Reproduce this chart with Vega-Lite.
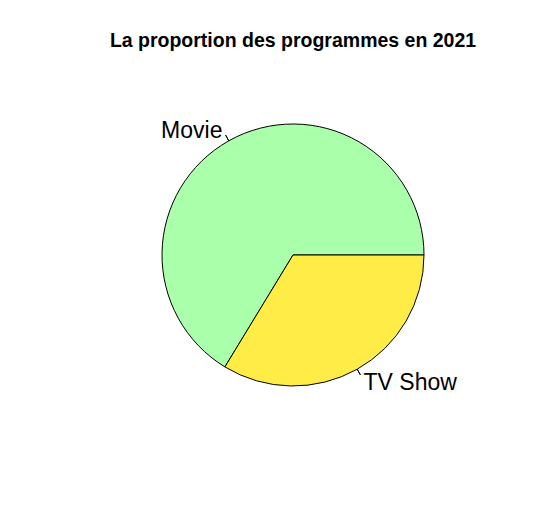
{
  "$schema": "https://vega.github.io/schema/vega-lite/v6.json",
  "autosize": {"type": "none"},
  "padding": {"left": 38, "top": 60, "right": 0, "bottom": 0},
  "width": 510,
  "height": 390,
  "background": "white",
  "config": {"view": {"stroke": null}, "font": "Liberation Sans"},
  "title": {"text": "La proportion des programmes en 2021", "font": "Liberation Sans", "fontSize": 19.5, "fontWeight": "bold", "color": "black", "anchor": "middle", "offset": 9},
  "data": {"values": [
    {"category": "Movie", "value": 66.3},
    {"category": "TV Show", "value": 33.7}
  ]},
  "transform": [
    {"stack": "value", "groupby": [], "as": ["start", "end"], "sort": [{"field": "category", "order": "descending"}]},
    {"calculate": "(datum.start + datum.end) / 2", "as": "mid"}
  ],
  "layer": [
    {
      "mark": {"type": "arc", "radius": 131, "stroke": "black", "strokeWidth": 1},
      "encoding": {
        "theta": {"field": "start", "type": "quantitative", "scale": {"domain": [0, 100], "range": [1.5707963, 7.8539816]}, "stack": null},
        "theta2": {"field": "end"},
        "color": {"field": "category", "type": "nominal", "scale": {"domain": ["Movie", "TV Show"], "range": ["#AAFFAA", "#FFEC46"]}, "legend": null}
      }
    },
    {
      "mark": {"type": "arc", "radius": 137.5, "radius2": 131, "fill": null, "stroke": "black", "strokeWidth": 1},
      "encoding": {
        "theta": {"field": "mid", "type": "quantitative", "stack": null},
        "theta2": {"field": "mid"}
      }
    },
    {
      "transform": [{"filter": "datum.category === 'Movie'"}],
      "mark": {"type": "text", "radius": 144, "align": "right", "baseline": "middle", "dy": 2, "fontSize": 23, "font": "Liberation Sans", "color": "black"},
      "encoding": {
        "theta": {"field": "mid", "type": "quantitative", "stack": null},
        "text": {"field": "category"}
      }
    },
    {
      "transform": [{"filter": "datum.category === 'TV Show'"}],
      "mark": {"type": "text", "radius": 144, "align": "left", "baseline": "middle", "dy": 2, "fontSize": 23, "font": "Liberation Sans", "color": "black"},
      "encoding": {
        "theta": {"field": "mid", "type": "quantitative", "stack": null},
        "text": {"field": "category"}
      }
    }
  ]
}
